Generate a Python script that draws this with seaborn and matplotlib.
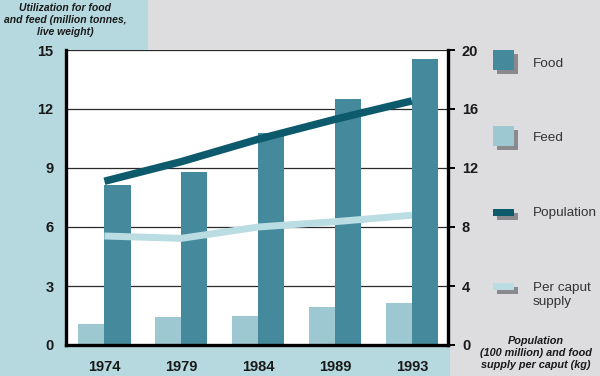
import numpy as np
import pandas as pd
import matplotlib
matplotlib.use("Agg")
import matplotlib.pyplot as plt
from matplotlib.patches import Rectangle
import seaborn as sns

years = ['1974', '1979', '1984', '1989', '1993']
food = [8.15, 8.8, 10.8, 12.5, 14.55]
feed = [1.07, 1.43, 1.47, 1.93, 2.14]
population = [11.1, 12.43, 13.95, 15.3, 16.55]
per_caput = [7.39, 7.23, 8.0, 8.36, 8.8]

left_ticks = [0, 3, 6, 9, 12, 15]
right_ticks = [0, 4, 8, 12, 16, 20]
left_label = "Utilization for food\nand feed (million tonnes,\nlive weight)"
right_label = "Population\n(100 million) and food\nsupply per caput (kg)"
legend_labels = ['Food', 'Feed', 'Population', 'Per caput\nsupply']

C_FOOD = '#458a9c'
C_FEED = '#9dc7d1'
C_POP = '#0e5a6d'
C_PC = '#b9dde3'
C_BLUE = '#b6d9df'
C_GRAY = '#dddcdf'

sns.set_theme(style='white')
plt.rcParams['font.family'] = ['Liberation Sans', 'DejaVu Sans']

W, H = 600, 376
fig = plt.figure(figsize=(6.0, 3.76), dpi=100, facecolor=C_GRAY)

def fx(x):
    return x / W

def fy(y):
    return 1 - y / H

# background panels (behind the axes)
for (x0, y0, x1, y1) in [(0, 0, 148, 50), (0, 0, 66, 376), (0, 345, 450, 376)]:
    fig.patches.append(Rectangle((fx(x0), fy(y1)), fx(x1) - fx(x0), fy(y0) - fy(y1),
                                 transform=fig.transFigure, facecolor=C_BLUE,
                                 edgecolor='none', zorder=-5))

ax = fig.add_axes([fx(66), fy(345), fx(448) - fx(66), fy(50) - fy(345)])
ax.set_facecolor('white')

df = pd.DataFrame({
    'year': years * 2,
    'value': feed + food,
    'kind': ['Feed'] * 5 + ['Food'] * 5,
})
sns.barplot(data=df, x='year', y='value', hue='kind', hue_order=['Feed', 'Food'],
            palette={'Feed': C_FEED, 'Food': C_FOOD}, saturation=1, width=0.68,
            gap=0, ax=ax, legend=False, errorbar=None, edgecolor='none', linewidth=0)
ax.set_ylim(0, 15)
ax.set_xlim(-0.5, 4.47)
ax.set_yticks(left_ticks)
ax.set_yticklabels([str(t) for t in left_ticks])
ax.set_axisbelow(True)
ax.yaxis.grid(True, color='#2a2a2a', linewidth=0.9)
ax.xaxis.grid(False)
ax.set_xlabel('')
ax.set_ylabel('')
ax.tick_params(axis='y', length=0, pad=9, labelsize=10.5, labelcolor='#1a1a1a')
ax.tick_params(axis='x', length=0, pad=11, labelsize=10.5, labelcolor='#1a1a1a')
for lab in ax.get_xticklabels() + ax.get_yticklabels():
    lab.set_fontweight('bold')
for s in ['left', 'bottom', 'right']:
    ax.spines[s].set_visible(True)
    ax.spines[s].set_color('black')
    ax.spines[s].set_linewidth(2.4)
ax.spines['top'].set_visible(False)

ax2 = ax.twinx()
xs = np.arange(len(years))
sns.lineplot(x=xs, y=population, ax=ax2, color=C_POP, linewidth=5.4,
             solid_capstyle='butt')
sns.lineplot(x=xs, y=per_caput, ax=ax2, color=C_PC, linewidth=5.0,
             solid_capstyle='butt')
ax2.set_ylim(0, 20)
ax2.set_yticks(right_ticks)
ax2.set_yticklabels([str(t) for t in right_ticks])
ax2.set_ylabel('')
ax2.tick_params(axis='y', direction='out', length=5, width=1.4, color='black',
                pad=5, labelsize=10.5, labelcolor='#1a1a1a', right=True)
for lab in ax2.get_yticklabels():
    lab.set_fontweight('bold')
for s in ax2.spines.values():
    s.set_visible(False)
ax2.grid(False)

# axis titles
fig.text(fx(65), fy(20), left_label, ha='center', va='center', fontsize=7.5,
         fontweight='bold', fontstyle='italic', color='#1a1a1a', linespacing=1.25)
fig.text(fx(536), fy(353), right_label, ha='center', va='center', fontsize=7.8,
         fontweight='bold', fontstyle='italic', color='#1a1a1a', linespacing=1.25)

# legend
def patch(x0, y0, x1, y1, color, z=3):
    fig.patches.append(Rectangle((fx(x0), fy(y1)), fx(x1) - fx(x0), fy(y0) - fy(y1),
                                 transform=fig.transFigure, facecolor=color,
                                 edgecolor='none', zorder=z))

shadow = '#8a8a8e'
entries = [
    (50, 70, C_FOOD, 64, legend_labels[0]),
    (126, 146, C_FEED, 138, legend_labels[1]),
    (209, 216, C_POP, 213, legend_labels[2]),
    (283, 290, C_PC, 295, legend_labels[3]),
]
for (y0, y1, col, ty, txt) in entries:
    patch(497, y0 + 4, 518, y1 + 4, shadow, z=2)
    patch(493, y0, 514, y1, col, z=3)
    fig.text(fx(533), fy(ty), txt, ha='left', va='center', fontsize=9.7,
             color='#333333', linespacing=1.3)

fig.savefig('out.png', dpi=100, facecolor=C_GRAY)
